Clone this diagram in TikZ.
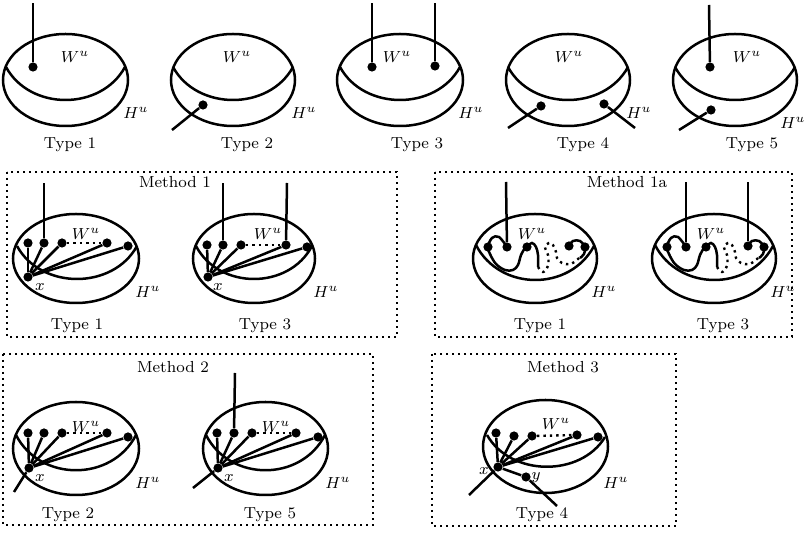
\documentclass[tikz,border=0pt]{standalone}
\newcommand\mysnake{%
  \draw[curve] plot[smooth,tension=0.6] coordinates {(507,247) (499,237) (492,238) (488,247) (490,254) (496,264) (505,270) (513,270) (518,265) (521,255) (525,248) (527,247) (532,243) (536,247) (538,255) (538,267)};
  \draw[dotline] plot[smooth,tension=0.6] coordinates {(538,267) (543,272) (548,266) (548,255) (545,247) (549,243) (553,245) (556,252) (557,258) (562,263) (571,264) (578,259) (581,256)};
  \draw[curve] plot[smooth,tension=0.6] coordinates {(569,246) (573,241) (580,241) (585,247) (584,254) (580,258)};
}
\begin{document}
\begin{tikzpicture}[x=0.5pt,y=-0.5pt,
  curve/.style={line width=1.25pt},
  blackdot/.style={circle,fill=black,inner sep=0pt,minimum size=4.6pt},
  lbl/.style={font=\footnotesize,inner sep=0pt},
  frame/.style={dotted,line width=1pt},
  dotline/.style={dotted,line width=1.2pt}]
\useasboundingbox (0,0) rectangle (804,533);

% ================= top row =================
% Type 1
\draw[curve] (65.5,80) ellipse [x radius=62.5,y radius=46];
\draw[curve] (6,67) .. controls (30,111) and (101,111) .. (125,67);
\node[blackdot] (a1) at (33,67) {};
\coordinate (a1e) at (33,3);
\draw[curve] (a1) -- (a1e);
\node[lbl] (a1w) at (75,57) {$W^u$};
\node[lbl] (a1h) at (136,113) {$H^u$};
\node[lbl] (a1t) at (70,145) {Type 1};

% Type 2
\draw[curve] (233,80) ellipse [x radius=62,y radius=46];
\draw[curve] (173,67) .. controls (197,111) and (269,111) .. (293,67);
\node[blackdot] (a2) at (203,105) {};
\coordinate (a2e) at (172,130);
\draw[curve] (a2) -- (a2e);
\node[lbl] (a2w) at (237,57) {$W^u$};
\node[lbl] (a2h) at (304,113) {$H^u$};
\node[lbl] (a2t) at (247,145) {Type 2};

% Type 3
\draw[curve] (400,80) ellipse [x radius=63,y radius=46];
\draw[curve] (340,67) .. controls (364,111) and (436,111) .. (460,67);
\node[blackdot] (a3a) at (372,67) {};
\node[blackdot] (a3b) at (435,66) {};
\coordinate (a3ae) at (372,3);
\coordinate (a3be) at (435,3);
\draw[curve] (a3a) -- (a3ae);
\draw[curve] (a3b) -- (a3be);
\node[lbl] (a3w) at (397,57) {$W^u$};
\node[lbl] (a3h) at (471,113) {$H^u$};
\node[lbl] (a3t) at (417,145) {Type 3};

% Type 4
\draw[curve] (568,80) ellipse [x radius=62,y radius=46];
\draw[curve] (508,67) .. controls (532,111) and (604,111) .. (628,67);
\node[blackdot] (a4a) at (541,106) {};
\node[blackdot] (a4b) at (604,104) {};
\coordinate (a4ae) at (508,128);
\coordinate (a4be) at (635,128);
\draw[curve] (a4a) -- (a4ae);
\draw[curve] (a4b) -- (a4be);
\node[lbl] (a4w) at (569,57) {$W^u$};
\node[lbl] (a4h) at (639,113) {$H^u$};
\node[lbl] (a4t) at (583,145) {Type 4};

% Type 5
\draw[curve] (735,80) ellipse [x radius=62,y radius=46];
\draw[curve] (675,67) .. controls (699,111) and (771,111) .. (795,67);
\node[blackdot] (a5a) at (710,67) {};
\node[blackdot] (a5b) at (711,110) {};
\coordinate (a5ae) at (709,5);
\coordinate (a5be) at (679,130);
\draw[curve] (a5a) -- (a5ae);
\draw[curve] (a5b) -- (a5be);
\node[lbl] (a5w) at (747,57) {$W^u$};
\node[lbl] (a5h) at (793,123) {$H^u$};
\node[lbl] (a5t) at (752,145) {Type 5};

% ================= Method 1 =================
\draw[frame] (7,172) rectangle (397,337);
\node[lbl] (m1lab) at (175,182) {Method 1};

% Type 1
\draw[curve] (76,258.5) ellipse [x radius=63,y radius=44.5];
\draw[curve] (17,246) .. controls (41,290) and (113,290) .. (137,246);
\node[blackdot] (b1) at (28,243) {};
\node[blackdot] (b2) at (44,243) {};
\node[blackdot] (b3) at (62,243) {};
\node[blackdot] (b4) at (107,243) {};
\node[blackdot] (b5) at (128,246) {};
\node[blackdot] (bx) at (28,277) {};
\foreach \d in {b1,b2,b3,b4,b5} \draw[curve] (bx) -- (\d);
\draw[dotline] (b3) -- (b4);
\coordinate (b2e) at (44,183);
\draw[curve] (b2) -- (b2e);
\node[lbl] (bxl) at (40,287) {$x$};
\node[lbl] (bw) at (86,234) {$W^u$};
\node[lbl] (bh) at (148,292) {$H^u$};
\node[lbl] (bt) at (77,326) {Type 1};

% Type 3
\draw[curve] (254,258.5) ellipse [x radius=61,y radius=44.5];
\draw[curve] (196,246) .. controls (219,290) and (289,290) .. (312,246);
\node[blackdot] (c1) at (207,245) {};
\node[blackdot] (c2) at (223,245) {};
\node[blackdot] (c3) at (241,245) {};
\node[blackdot] (c4) at (286,245) {};
\node[blackdot] (c5) at (307,247) {};
\node[blackdot] (cx) at (208,277) {};
\foreach \d in {c1,c2,c3,c4,c5} \draw[curve] (cx) -- (\d);
\draw[dotline] (c3) -- (c4);
\coordinate (c2e) at (223,183);
\coordinate (c4e) at (287,183);
\draw[curve] (c2) -- (c2e);
\draw[curve] (c4) -- (c4e);
\node[lbl] (cxl) at (218,287) {$x$};
\node[lbl] (cw) at (268,234) {$W^u$};
\node[lbl] (ch) at (326,292) {$H^u$};
\node[lbl] (ct) at (265,326) {Type 3};

% ================= Method 1a =================
\draw[frame] (435,172) rectangle (792,337);
\node[lbl] (m1alab) at (627,182) {Method 1a};

% Type 1
\draw[curve] (535,258.5) ellipse [x radius=62,y radius=44.5];
\draw[curve] (476,245) .. controls (500,291.5) and (570,291.5) .. (594,246);
\mysnake
\node[blackdot] (d1) at (488,247) {};
\node[blackdot] (d2) at (507,247) {};
\node[blackdot] (d3) at (527,247) {};
\node[blackdot] (d4) at (569,246) {};
\node[blackdot] (d5) at (585,247) {};
\coordinate (d2e) at (506,182);
\draw[curve] (d2) -- (d2e);
\node[lbl] (dw) at (532,234) {$W^u$};
\node[lbl] (dh) at (604,292) {$H^u$};
\node[lbl] (dt) at (540,326) {Type 1};

% Type 3
\draw[curve] (714,258.5) ellipse [x radius=62,y radius=44.5];
\draw[curve] (655,245) .. controls (679,291.5) and (749,291.5) .. (773,246);
\begin{scope}[shift={(179,0)}]
\mysnake
\end{scope}
\node[blackdot] (e1) at (667,247) {};
\node[blackdot] (e2) at (686,247) {};
\node[blackdot] (e3) at (706,247) {};
\node[blackdot] (e4) at (748,246) {};
\node[blackdot] (e5) at (764,247) {};
\coordinate (e2e) at (686,182);
\coordinate (e4e) at (748,182);
\draw[curve] (e2) -- (e2e);
\draw[curve] (e4) -- (e4e);
\node[lbl] (ew) at (711,234) {$W^u$};
\node[lbl] (eh) at (783,292) {$H^u$};
\node[lbl] (et) at (723,326) {Type 3};

% ================= Method 2 =================
\draw[frame] (3,354) rectangle (373,525);
\node[lbl] (m2lab) at (173,367) {Method 2};

% Type 2
\draw[curve] (76,448.5) ellipse [x radius=63,y radius=46.5];
\draw[curve] (16,435) .. controls (40,482) and (112,482) .. (136,435);
\node[blackdot] (f1) at (28,433) {};
\node[blackdot] (f2) at (44,433) {};
\node[blackdot] (f3) at (62,433) {};
\node[blackdot] (f4) at (107,433) {};
\node[blackdot] (f5) at (128,437) {};
\node[blackdot] (fx) at (29,468) {};
\foreach \d in {f1,f2,f3,f4,f5} \draw[curve] (fx) -- (\d);
\draw[dotline] (f3) -- (f4);
\coordinate (fxe) at (14,492);
\draw[curve] (fx) -- (fxe);
\node[lbl] (fxl) at (40,478) {$x$};
\node[lbl] (fw) at (86,427) {$W^u$};
\node[lbl] (fh) at (148,483) {$H^u$};
\node[lbl] (ft) at (68,515) {Type 2};

% Type 5
\draw[curve] (265.5,448.5) ellipse [x radius=62.5,y radius=46.5];
\draw[curve] (206,435) .. controls (230,482) and (301,482) .. (325,435);
\node[blackdot] (g1) at (217,433) {};
\node[blackdot] (g2) at (234,433) {};
\node[blackdot] (g3) at (252,433) {};
\node[blackdot] (g4) at (296,433) {};
\node[blackdot] (g5) at (318,437) {};
\node[blackdot] (gx) at (218,468) {};
\foreach \d in {g1,g2,g3,g4,g5} \draw[curve] (gx) -- (\d);
\draw[dotline] (g3) -- (g4);
\coordinate (g2e) at (235,373);
\coordinate (gxe) at (193,488);
\draw[curve] (g2) -- (g2e);
\draw[curve] (gx) -- (gxe);
\node[lbl] (gxl) at (229,478) {$x$};
\node[lbl] (gw) at (276,427) {$W^u$};
\node[lbl] (gh) at (338,483) {$H^u$};
\node[lbl] (gt) at (270,515) {Type 5};

% ================= Method 3 =================
\draw[frame] (432,354) rectangle (676,526);
\node[lbl] (m3lab) at (563,367) {Method 3};

\draw[curve] (545.5,446.5) ellipse [x radius=62.5,y radius=46.5];
\draw[curve] (487,435) .. controls (511,477) and (581,477) .. (605,437);
\node[blackdot] (h1) at (496,433) {};
\node[blackdot] (h2) at (514,436) {};
\node[blackdot] (h3) at (532,436) {};
\node[blackdot] (h4) at (577,435) {};
\node[blackdot] (h5) at (598,437) {};
\node[blackdot] (hx) at (498,467) {};
\node[blackdot] (hy) at (526,477) {};
\foreach \d in {h1,h2,h3,h4,h5} \draw[curve] (hx) -- (\d);
\draw[dotline] (h3) -- (h4);
\coordinate (hye) at (557,506);
\coordinate (hxe) at (469,495);
\draw[curve] (hx) -- (hy);
\draw[curve] (hy) -- (hye);
\draw[curve] (hx) -- (hxe);
\node[lbl] (hxl) at (484,471) {$x$};
\node[lbl] (hyl) at (536,478) {$y$};
\node[lbl] (hw) at (556,424) {$W^u$};
\node[lbl] (hh) at (616,483) {$H^u$};
\node[lbl] (ht) at (542,515) {Type 4};
\end{tikzpicture}
\end{document}
